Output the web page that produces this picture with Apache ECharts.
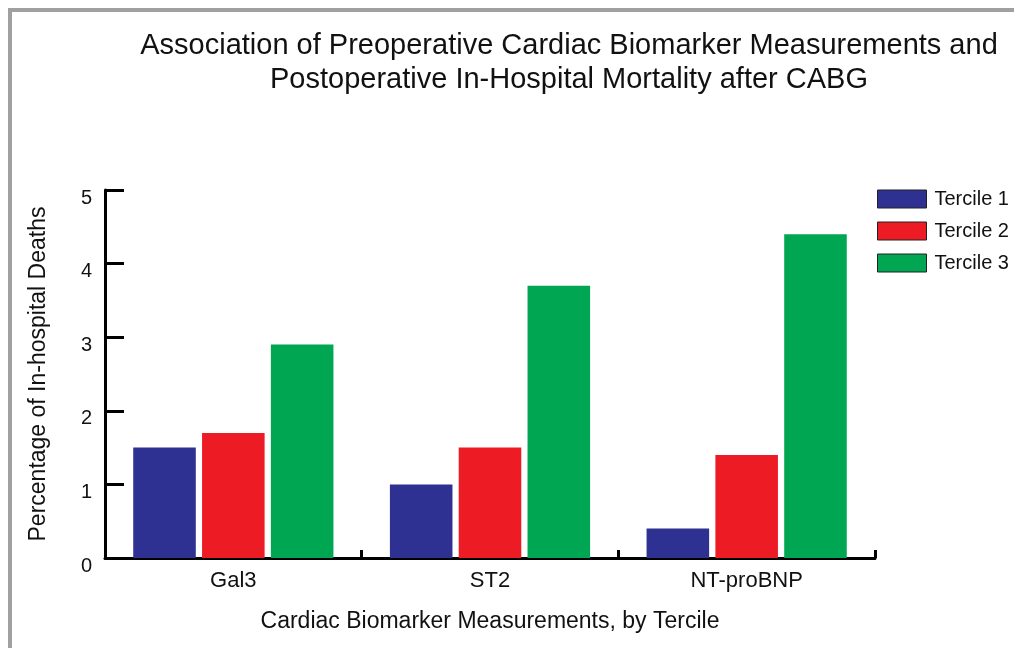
<!DOCTYPE html>
<html lang="en">
<head>
  <meta charset="UTF-8">
  <title>CABG mortality</title>
  <script src="https://cdn.jsdelivr.net/npm/echarts@6/dist/echarts.min.js"></script>
  <style>
    html, body { margin: 0; padding: 0; background: #fff; }
  </style>
</head>
<body>
<div id="chart" style="width:1014px;height:648px;"></div>

<script>
  // categories and values
  var biomarkers = ['Gal3', 'ST2', 'NT-proBNP'];
  var tercileNames = ['Tercile 1', 'Tercile 2', 'Tercile 3'];
  var tercile1 = [1.5, 1.0, 0.4];
  var tercile2 = [1.7, 1.5, 1.4];
  var tercile3 = [2.9, 3.7, 4.4];
  var colors = ['#2e3192', '#ed1c24', '#00a651'];

  var chart = echarts.init(document.getElementById('chart'));
  var font = 'Liberation Sans, Arial, Helvetica, sans-serif';

  var allData = [tercile1, tercile2, tercile3];
  var series = [];
  for (var i = 0; i < tercileNames.length; i++) {
    series.push({
      name: tercileNames[i],
      type: 'bar',
      data: allData[i],
      itemStyle: { color: colors[i] },
      barGap: '10%',
      barCategoryGap: '22%'
    });
  }

  var option = {
    animation: false,
    textStyle: { fontFamily: font, color: '#111' },
    title: {
      text: 'Association of Preoperative Cardiac Biomarker Measurements and\nPostoperative In-Hospital Mortality after CABG',
      left: 564,
      textAlign: 'center',
      top: 24,
      textStyle: { fontFamily: font, fontSize: 29, fontWeight: 'normal', color: '#111', lineHeight: 34 }
    },
    legend: {
      orient: 'vertical',
      left: 877,
      top: 189,
      padding: 0,
      itemWidth: 49,
      itemHeight: 18,
      itemGap: 12,
      icon: 'rect',
      textStyle: { fontFamily: font, fontSize: 20, color: '#111', padding: [0, 0, 0, 3] },
      itemStyle: { borderColor: '#222', borderWidth: 1 },
      data: tercileNames
    },
    grid: { left: 105, right: 139, top: 190, bottom: 90 },
    xAxis: {
      type: 'category',
      data: biomarkers,
      name: 'Cardiac Biomarker Measurements, by Tercile',
      nameLocation: 'middle',
      nameGap: 52,
      nameTextStyle: { fontFamily: font, fontSize: 23, color: '#111' },
      axisLine: { lineStyle: { color: '#000', width: 3 } },
      axisTick: { show: true, inside: true, length: 8, lineStyle: { color: '#000', width: 3 } },
      axisLabel: { fontFamily: font, fontSize: 22, color: '#111', margin: 12 }
    },
    yAxis: {
      type: 'value',
      min: 0,
      max: 5,
      interval: 1,
      name: 'Percentage of In-hospital Deaths',
      nameLocation: 'middle',
      nameGap: 55,
      nameTextStyle: { fontFamily: font, fontSize: 23, color: '#111' },
      axisLine: { show: true, lineStyle: { color: '#000', width: 3 } },
      axisTick: { show: true, inside: true, length: 19, lineStyle: { color: '#000', width: 3 } },
      axisLabel: { fontFamily: font, fontSize: 20, color: '#111', margin: 13, verticalAlign: 'top', lineHeight: 16 },
      splitLine: { show: false }
    },
    graphic: [
      // grey frame along the top and left edge
      { type: 'line', shape: { x1: 8, y1: 10, x2: 1014, y2: 10 }, style: { stroke: '#a0a0a0', lineWidth: 4 } },
      { type: 'line', shape: { x1: 10, y1: 8, x2: 10, y2: 648 }, style: { stroke: '#a0a0a0', lineWidth: 4 } }
    ],
    series: series
  };

  chart.setOption(option);
</script>
</body>
</html>
